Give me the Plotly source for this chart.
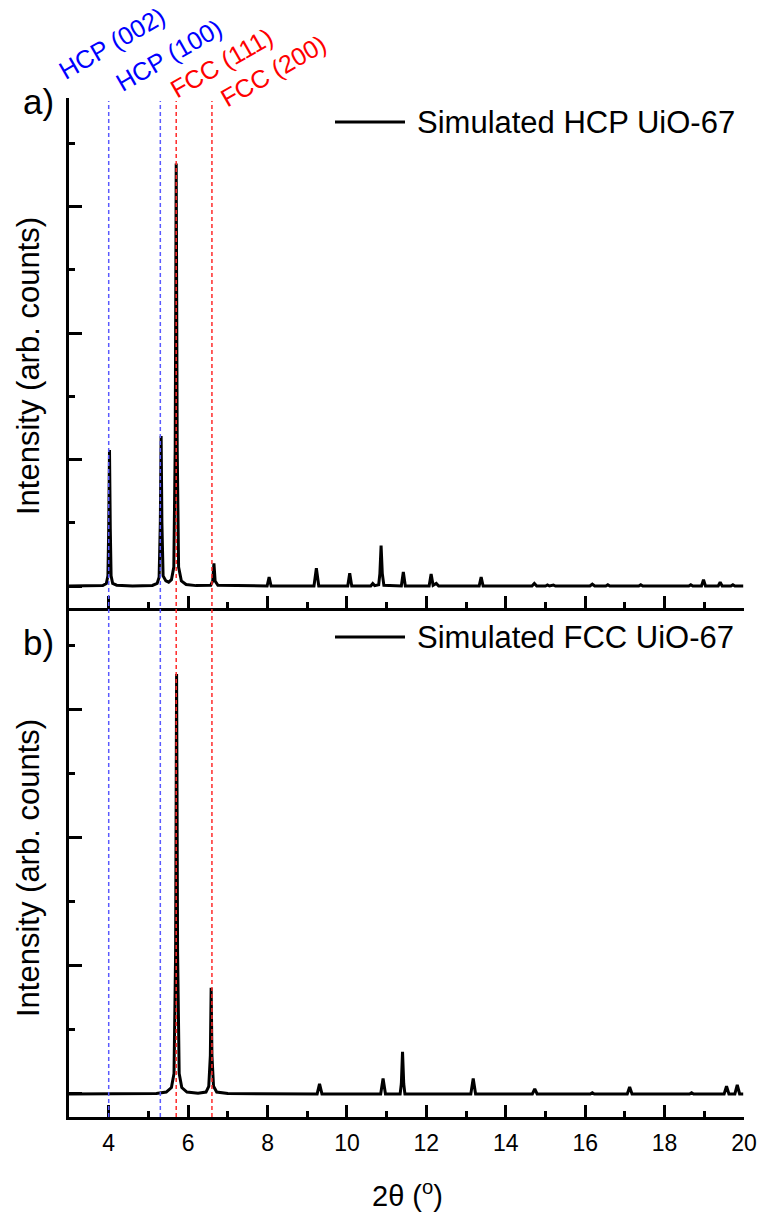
import plotly.graph_objects as go

# ---------------- data ----------------
hcp_two_theta = [3.00, 3.85, 3.94, 3.98, 4.00, 4.02, 4.04, 4.06, 4.10, 4.20, 4.60,
                 5.10, 5.22, 5.27, 5.30, 5.32, 5.34, 5.37, 5.44, 5.51, 5.58, 5.64,
                 5.675, 5.70, 5.725, 5.76, 5.83, 5.95, 6.20,
                 6.57, 6.62, 6.65, 6.68, 6.75,
                 7.99, 8.04, 8.09, 9.17, 9.23, 9.29, 10.02, 10.07, 10.12,
                 10.60, 10.65, 10.70, 10.80, 10.83, 10.86, 10.89, 10.93,
                 11.37, 11.42, 11.47, 12.07, 12.12, 12.17, 12.25, 12.31,
                 13.33, 13.38, 13.43, 14.66, 14.72, 14.78,
                 15.00, 15.05, 15.10, 15.20, 15.25,
                 16.12, 16.18, 16.24, 16.52, 16.57, 16.62, 17.35, 17.40, 17.45,
                 18.61, 18.66, 18.71, 18.93, 18.98, 19.03, 19.35, 19.40, 19.45,
                 19.67, 19.72, 19.77, 19.98]
hcp_intensity = [0.000, 0.004, 0.020, 0.080, 0.450, 1.075, 0.450, 0.080, 0.020, 0.006, 0.000,
                 0.004, 0.020, 0.070, 0.500, 1.186, 0.500, 0.080, 0.040, 0.030, 0.050, 0.150,
                 1.100, 3.340, 1.100, 0.150, 0.040, 0.012, 0.003,
                 0.005, 0.040, 0.180, 0.040, 0.005,
                 0.000, 0.070, 0.000, 0.000, 0.140, 0.000, 0.000, 0.100, 0.000,
                 0.000, 0.020, 0.003, 0.010, 0.100, 0.320, 0.100, 0.005,
                 0.000, 0.110, 0.000, 0.000, 0.095, 0.005, 0.020, 0.000,
                 0.000, 0.070, 0.000, 0.000, 0.020, 0.000,
                 0.000, 0.008, 0.000, 0.008, 0.000,
                 0.000, 0.015, 0.000, 0.000, 0.010, 0.000, 0.000, 0.010, 0.000,
                 0.000, 0.010, 0.000, 0.000, 0.050, 0.000, 0.000, 0.030, 0.000,
                 0.000, 0.010, 0.000, 0.000]

fcc_two_theta = [3.00, 5.20, 5.45, 5.58, 5.645, 5.685, 5.71, 5.735, 5.775, 5.84, 5.97, 6.25,
                 6.45, 6.52, 6.56, 6.58, 6.60, 6.64, 6.72, 7.00,
                 9.25, 9.31, 9.37, 10.85, 10.91, 10.97,
                 11.34, 11.37, 11.40, 11.43, 11.46,
                 13.12, 13.18, 13.24, 14.67, 14.73, 14.79,
                 16.13, 16.18, 16.23, 17.06, 17.12, 17.18, 18.63, 18.68, 18.73,
                 19.50, 19.56, 19.62, 19.77, 19.83, 19.89, 19.98]
fcc_intensity = [0.000, 0.004, 0.015, 0.050, 0.160, 1.100, 3.280, 1.100, 0.160, 0.050, 0.015, 0.006,
                 0.015, 0.060, 0.300, 0.830, 0.300, 0.060, 0.015, 0.003,
                 0.000, 0.080, 0.000, 0.000, 0.120, 0.000,
                 0.000, 0.080, 0.330, 0.080, 0.000,
                 0.000, 0.120, 0.000, 0.000, 0.040, 0.000,
                 0.000, 0.010, 0.000, 0.000, 0.055, 0.000, 0.000, 0.010, 0.000,
                 0.000, 0.060, 0.000, 0.000, 0.070, 0.000, 0.000]

ref_positions = [4.00, 5.30, 5.70, 6.60]
ref_labels = ["HCP (002)", "HCP (100)", "FCC (111)", "FCC (200)"]
ref_colors = ["#0000ff", "#0000ff", "#ff0000", "#ff0000"]
ref_line_colors = ["#5a5aff", "#5a5aff", "#ff2a2a", "#ff2a2a"]

legend_labels = ["Simulated HCP UiO-67", "Simulated FCC UiO-67"]
panel_labels = ["a)", "b)"]
x_ticks = [4, 6, 8, 10, 12, 14, 16, 18, 20]

# ---------------- layout geometry ----------------
W, H = 760, 1214
ML, MR, MT, MB = 69, 16, 98, 97
PW, PH = W - ML - MR, H - MT - MB
FONT = "Liberation Sans, Arial, sans-serif"


def px_x(p):
    return (p - ML) / PW


def px_y(p):
    return (H - MB - p) / PH


fig = go.Figure()
fig.add_trace(go.Scatter(x=hcp_two_theta, y=hcp_intensity, mode="lines",
                         line=dict(color="black", width=3), xaxis="x", yaxis="y",
                         showlegend=False, hoverinfo="skip"))
fig.add_trace(go.Scatter(x=fcc_two_theta, y=fcc_intensity, mode="lines",
                         line=dict(color="black", width=3), xaxis="x2", yaxis="y2",
                         showlegend=False, hoverinfo="skip"))

axis_common = dict(showline=True, linecolor="black", linewidth=2.5, ticks="inside",
                   tickcolor="black", tickwidth=2.5, showgrid=False, zeroline=False,
                   automargin=False)
minor_x = dict(dtick=1, tick0=3, ticklen=6, tickwidth=2.5, ticks="inside", tickcolor="black",
               showgrid=False)
minor_y = dict(dtick=0.5, tick0=0, ticklen=6, tickwidth=2.5, ticks="inside", tickcolor="black",
               showgrid=False)

fig.update_layout(
    template="none",
    width=W, height=H,
    margin=dict(l=ML, r=MR, t=MT, b=MB, autoexpand=False),
    paper_bgcolor="white", plot_bgcolor="white",
    font=dict(family=FONT, color="black"),
    xaxis=dict(axis_common, domain=[0, 1], anchor="y", range=[3, 20],
               tickvals=x_ticks, ticklen=12, showticklabels=False, minor=minor_x),
    yaxis=dict(axis_common, domain=[0.5, 1], anchor="x", range=[-0.17, 3.858],
               dtick=1, tick0=0, ticklen=13, showticklabels=False, minor=minor_y),
    xaxis2=dict(axis_common, domain=[0, 1], anchor="y2", range=[3, 20],
                tickvals=x_ticks, ticklen=12, showticklabels=True, ticklabelstandoff=4,
                tickfont=dict(size=23, family=FONT, color="black"), minor=minor_x),
    yaxis2=dict(axis_common, domain=[0, 0.5], anchor="x2", range=[-0.18, 3.80],
                dtick=1, tick0=0, ticklen=13, showticklabels=False, minor=minor_y),
)

shapes = []
for xpos, col in zip(ref_positions, ref_line_colors):
    shapes.append(dict(type="line", xref="x", yref="paper", x0=xpos, x1=xpos,
                       y0=0, y1=px_y(101), line=dict(color=col, width=1.5, dash="4px,3px"),
                       layer="above"))

annotations = []
# rotated peak labels (centres in pixels)
label_centres = [(112, 43), (169, 55), (221, 63), (273, 71)]
for (cx, cy), txt, col in zip(label_centres, ref_labels, ref_colors):
    annotations.append(dict(text=txt, xref="paper", yref="paper", x=px_x(cx), y=px_y(cy),
                            xanchor="center", yanchor="middle", showarrow=False, textangle=-30,
                            font=dict(size=25, color=col, family=FONT)))

# legends (line + text) for each panel
for ly, txt in zip([122, 637], legend_labels):
    shapes.append(dict(type="line", xref="paper", yref="paper", x0=px_x(335), x1=px_x(405),
                       y0=px_y(ly), y1=px_y(ly), line=dict(color="black", width=3)))
    annotations.append(dict(text=txt, xref="paper", yref="paper", x=px_x(415), y=px_y(ly),
                            xanchor="left", yanchor="middle", showarrow=False,
                            font=dict(size=31, family=FONT, color="black")))

# panel letters
for (cx, cy), txt in zip([(38, 101), (38, 642)], panel_labels):
    annotations.append(dict(text=txt, xref="paper", yref="paper", x=px_x(cx), y=px_y(cy),
                            xanchor="center", yanchor="middle", showarrow=False,
                            font=dict(size=35, family=FONT, color="black")))

# y-axis titles
for cy in [366, 868]:
    annotations.append(dict(text="Intensity (arb. counts)", xref="paper", yref="paper",
                            x=px_x(28), y=px_y(cy), xanchor="center", yanchor="middle",
                            showarrow=False, textangle=-90,
                            font=dict(size=31, family=FONT, color="black")))

# x-axis title
annotations.append(dict(text="2θ (<sup>o</sup>)", xref="paper", yref="paper",
                        x=px_x(407), y=px_y(1194), xanchor="center", yanchor="middle",
                        showarrow=False, font=dict(size=29, family=FONT, color="black")))

fig.update_layout(shapes=shapes, annotations=annotations)
fig.write_html("out.html")
